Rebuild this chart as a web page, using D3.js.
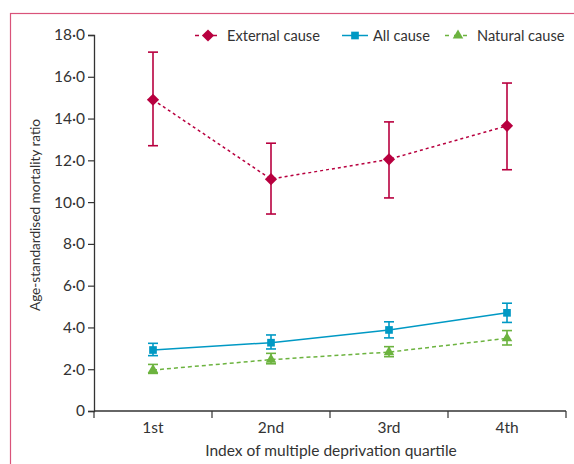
<!DOCTYPE html>
<html>
<head>
<meta charset="utf-8">
<script src="https://cdn.jsdelivr.net/npm/d3@7"></script>
<style>
  body { margin: 0; background: #fff; }
  text { font-family: Lato, "Open Sans", sans-serif; fill: #333; }
</style>
</head>
<body>
<div id="chart"></div>
<script>
const quartiles = ["1st", "2nd", "3rd", "4th"];
const yTicks = [0, 2, 4, 6, 8, 10, 12, 14, 16, 18];

// value, lower CI, upper CI per quartile
const externalCause = [14.9, 11.1, 12.05, 13.65];
const externalLow = [12.7, 9.43, 10.2, 11.55];
const externalHigh = [17.18, 12.82, 13.84, 15.7];

const allCause = [2.92, 3.27, 3.88, 4.7];
const allLow = [2.65, 2.97, 3.5, 4.24];
const allHigh = [3.24, 3.64, 4.27, 5.16];

const naturalCause = [1.96, 2.46, 2.82, 3.48];
const naturalLow = [1.8, 2.26, 2.6, 3.16];
const naturalHigh = [2.23, 2.76, 3.08, 3.85];

const W = 574, H = 464;
const margin = {left: 94, right: 8, top: 35, bottom: 53};
const fs = "15.5px";

const series = [
    {name: "External cause", v: externalCause, lo: externalLow, hi: externalHigh, color: "#b8003f", dash: "3,3", shape: d3.symbolDiamond2, size: 95},
    {name: "All cause", v: allCause, lo: allLow, hi: allHigh, color: "#0099c4", dash: null, shape: d3.symbolSquare2, size: 75},
    {name: "Natural cause", v: naturalCause, lo: naturalLow, hi: naturalHigh, color: "#6cb33f", dash: "4,3", shape: d3.symbolTriangle2, size: 80}
];

const svg = d3.select("#chart").append("svg")
    .attr("width", W).attr("height", H);

// pink frame
svg.append("rect")
    .attr("x", 10.5).attr("y", 13.5)
    .attr("width", 600).attr("height", 500)
    .attr("fill", "none").attr("stroke", "#d9537a").attr("stroke-width", 1.2);

const x = d3.scaleBand().domain(quartiles)
    .range([margin.left, W - margin.right]);
const y = d3.scaleLinear().domain([0, 18])
    .range([H - margin.bottom, margin.top]);

// y axis
const yAxis = svg.append("g")
    .attr("transform", `translate(${margin.left},0)`)
    .call(d3.axisLeft(y).tickValues(yTicks).tickSize(6).tickPadding(3)
        .tickFormat(d => d === 0 ? "0" : d3.format(".1f")(d).replace(".", "\u00b7")));
yAxis.select(".domain").attr("stroke", "#333").attr("stroke-width", 1.3);
yAxis.selectAll(".tick line").attr("stroke", "#333").attr("stroke-width", 1.2);
yAxis.selectAll("text").style("font-size", fs).attr("fill", "#333");

// x axis: ticks on band edges
const edges = quartiles.map(q => x(q)).concat([x(quartiles[3]) + x.bandwidth()]);
const xg = svg.append("g");
xg.append("line")
    .attr("x1", margin.left).attr("x2", W - margin.right)
    .attr("y1", y(0)).attr("y2", y(0))
    .attr("stroke", "#333").attr("stroke-width", 1.3);
xg.selectAll(".xt").data(edges).enter().append("line")
    .attr("x1", d => d).attr("x2", d => d)
    .attr("y1", y(0)).attr("y2", y(0) + 7)
    .attr("stroke", "#333").attr("stroke-width", 1.2);
xg.selectAll(".xl").data(quartiles).enter().append("text")
    .attr("x", d => x(d) + x.bandwidth() / 2)
    .attr("y", y(0) + 22)
    .attr("text-anchor", "middle")
    .style("font-size", fs)
    .text(d => d);

// axis titles
svg.append("text")
    .attr("x", 331)
    .attr("y", 456)
    .attr("text-anchor", "middle")
    .style("font-size", fs)
    .text("Index of multiple deprivation quartile");

svg.append("text")
    .attr("transform", "translate(40,215) rotate(-90)")
    .attr("text-anchor", "middle")
    .style("font-size", "13.6px")
    .text("Age-standardised mortality ratio");

const cx = q => x(q) + x.bandwidth() / 2;

series.forEach(s => {
    const g = svg.append("g");
    const line = d3.line().x((d, i) => cx(quartiles[i])).y(d => y(d));
    g.append("path")
        .datum(s.v)
        .attr("d", line)
        .attr("fill", "none")
        .attr("stroke", s.color)
        .attr("stroke-width", 1.5)
        .attr("stroke-dasharray", s.dash);

    // error bars
    quartiles.forEach((q, i) => {
        const px = cx(q);
        g.append("line").attr("x1", px).attr("x2", px)
            .attr("y1", y(s.lo[i])).attr("y2", y(s.hi[i]))
            .attr("stroke", s.color).attr("stroke-width", 1.6);
        [s.lo[i], s.hi[i]].forEach(v => {
            g.append("line").attr("x1", px - 5).attr("x2", px + 5)
                .attr("y1", y(v)).attr("y2", y(v))
                .attr("stroke", s.color).attr("stroke-width", 1.6);
        });
    });

    g.selectAll(".pt").data(s.v).enter().append("path")
        .attr("transform", (d, i) => `translate(${cx(quartiles[i])},${y(d)})`)
        .attr("d", d3.symbol().type(s.shape).size(s.size))
        .attr("fill", s.color);
});

// legend
const legendItems = [
    {s: series[0], x: 195, tx: 227},
    {s: series[1], x: 342, tx: 373},
    {s: series[2], x: 445, tx: 477}
];
const legend = svg.append("g");
legendItems.forEach(it => {
    const ly = 35.5;
    legend.append("line")
        .attr("x1", it.x).attr("x2", it.x + 26)
        .attr("y1", ly).attr("y2", ly)
        .attr("stroke", it.s.color).attr("stroke-width", 1.5)
        .attr("stroke-dasharray", it.s.dash ? "4,5" : null);
    legend.append("path")
        .attr("transform", `translate(${it.x + 13},${ly})`)
        .attr("d", d3.symbol().type(it.s.shape).size(it.s.size))
        .attr("fill", it.s.color);
    legend.append("text")
        .attr("x", it.tx).attr("y", ly + 5)
        .style("font-size", "14.6px")
        .text(it.s.name);
});
</script>
</body>
</html>
